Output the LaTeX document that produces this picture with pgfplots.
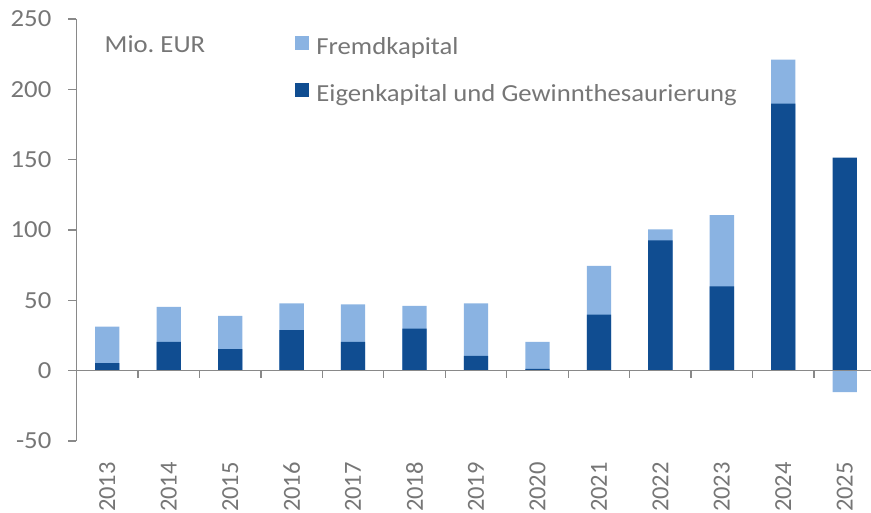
\documentclass[border=0pt]{standalone}
\usepackage{fontspec}
\setmainfont{Carlito}[FakeStretch=1.09]
\newfontfamily\plainfont{Carlito}
\usepackage{pgfplots}
\usepackage{pgfplotstable}
\pgfplotsset{compat=1.18}
\definecolor{darkb}{RGB}{16,77,145}
\definecolor{lightb}{RGB}{138,179,226}
\definecolor{txtgray}{RGB}{118,118,118}
\definecolor{axgray}{RGB}{137,137,137}
\pgfplotstableread{
x eigen fremd
0 5.3 26.0
1 20.4 24.9
2 15.4 23.5
3 28.9 19.0
4 20.4 26.8
5 29.9 16.2
6 10.5 37.4
7 1.2 19.2
8 39.8 34.7
9 92.7 7.8
10 60.0 50.5
11 189.9 31.3
12 151.5 -15.2
}\datatable
\begin{document}
\frenchspacing
\begin{tikzpicture}[x=1pt,y=1pt]
\useasboundingbox (0,0) rectangle (871,512);
\begin{axis}[
  at={(76.5pt,71pt)}, anchor=south west,
  scale only axis, width=799pt, height=422pt,
  xmin=-0.5, xmax=12.5, ymin=-50, ymax=250,
  axis y line*=left, axis x line*=bottom,
  axis line style={-, draw=axgray, line width=1.3pt},
  x axis line style={draw=none},
  ytick={-50,0,50,100,150,200,250},
  xtick={0,...,12},
  xticklabels={2013,2014,2015,2016,2017,2018,2019,2020,2021,2022,2023,2024,2025},
  xtick style={draw=none},
  ytick style={draw=axgray, line width=1.3pt},
  tick align=outside, major tick length=8pt,
  /pgf/number format/assume math mode=true,
  tick label style={font=\fontsize{24.5}{28}\selectfont, text=txtgray, inner sep=0pt},
  yticklabel style={xshift=-17pt},
  xticklabel style={font=\plainfont\fontsize{24.5}{28}\selectfont, rotate=90, anchor=east, xshift=-13pt},
  clip=false,
  legend style={draw=none, fill=none, at={(0.274,0.96)}, anchor=north west,
    inner sep=0pt, outer sep=0pt,
    font=\fontsize{24.5}{28}\selectfont, text=txtgray, row sep=24pt,
    nodes={inner sep=0pt, text height=17pt, text depth=5pt},
    /tikz/every odd column/.append style={column sep=7pt}},
  legend cell align=left,
  legend image code/.code={\fill[#1] (0pt,-1.5pt) rectangle (14pt,12.5pt);},
]
\addplot[ybar, bar shift=0pt, bar width=24.3pt, fill=lightb, draw=none] table[x=x, y expr={(\thisrow{fremd}>0) ? (\thisrow{eigen}+\thisrow{fremd}) : (\thisrow{fremd})}] {\datatable};
\addlegendentry{Fremdkapital}
\addplot[ybar, bar shift=0pt, bar width=24.3pt, fill=darkb, draw=none] table[x=x, y=eigen] {\datatable};
\addlegendentry{Eigenkapital und Gewinnthesaurierung}
\addplot[axgray, line width=1.3pt, forget plot] coordinates {(-0.5,0) (12.5,0)};
\pgfplotsinvokeforeach{0.5,1.5,2.5,3.5,4.5,5.5,6.5,7.5,8.5,9.5,10.5,11.5}{
  \draw[axgray, line width=1.3pt] (axis cs:#1,0) -- ([yshift=-7pt]axis cs:#1,0);
}
\end{axis}
\node[anchor=base west, text=txtgray, font=\fontsize{24.5}{28}\selectfont, inner sep=0pt] at (104.5,459) {Mio. EUR};
\end{tikzpicture}
\end{document}
